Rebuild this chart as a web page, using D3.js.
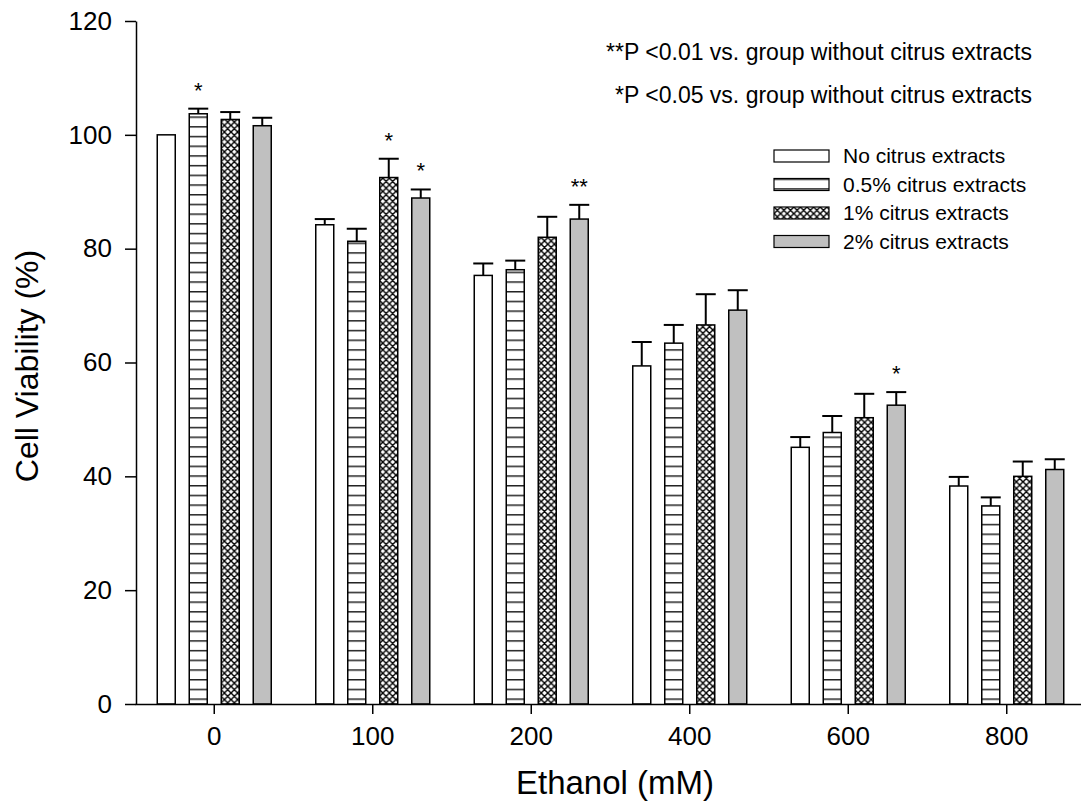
<!DOCTYPE html>
<html>
<head>
<meta charset="utf-8">
<script src="https://cdn.jsdelivr.net/npm/d3@7"></script>
<style>
  html, body { margin: 0; padding: 0; background: #fff; }
  svg { display: block; font-family: "Liberation Sans", Arial, sans-serif; }
</style>
</head>
<body>
<svg id="chart" width="1081" height="809"></svg>
<script>
// ---------- data ----------
const categories = ["0", "100", "200", "400", "600", "800"];
const seriesNames = ["No citrus extracts", "0.5% citrus extracts", "1% citrus extracts", "2% citrus extracts"];
const noExtract    = [100.0, 84.2, 75.3, 59.4, 45.1, 38.3];
const noExtractErr = [0.0, 1.0, 2.1, 4.2, 1.8, 1.6];
const half         = [103.7, 81.3, 76.3, 63.4, 47.7, 34.8];
const halfErr      = [0.9, 2.2, 1.6, 3.2, 2.9, 1.5];
const one          = [102.7, 92.5, 82.0, 66.6, 50.3, 40.0];
const oneErr       = [1.3, 3.3, 3.6, 5.4, 4.2, 2.6];
const two          = [101.6, 88.9, 85.2, 69.2, 52.5, 41.2];
const twoErr       = [1.4, 1.5, 2.5, 3.5, 2.3, 1.8];
const noExtractSig = ["", "", "", "", "", ""];
const halfSig      = ["*", "", "", "", "", ""];
const oneSig       = ["", "*", "", "", "", ""];
const twoSig       = ["", "*", "**", "", "*", ""];
const yTicks = [0, 20, 40, 60, 80, 100, 120];
const annotations = ["**P <0.01 vs. group without citrus extracts", "*P <0.05 vs. group without citrus extracts"];

const seriesValues = [noExtract, half, one, two];
const seriesErrors = [noExtractErr, halfErr, oneErr, twoErr];
const seriesSig = [noExtractSig, halfSig, oneSig, twoSig];

// ---------- setup ----------
const svg = d3.select("#chart");
const font = '"Liberation Sans", Arial, sans-serif';

const defs = svg.append("defs");
const stripe = defs.append("pattern").attr("id", "stripe")
  .attr("patternUnits", "userSpaceOnUse").attr("width", 10).attr("height", 9.7);
stripe.append("rect").attr("width", 10).attr("height", 9.7).attr("fill", "#fff");
stripe.append("line").attr("x1", 0).attr("x2", 10).attr("y1", 0.75).attr("y2", 0.75)
  .attr("stroke", "#222").attr("stroke-width", 1.5);

const cp = 6.6;
const cross = defs.append("pattern").attr("id", "cross")
  .attr("patternUnits", "userSpaceOnUse").attr("width", cp).attr("height", cp);
cross.append("rect").attr("width", cp).attr("height", cp).attr("fill", "#fff");
cross.append("path")
  .attr("d", `M0,0L${cp},${cp}M${cp},0L0,${cp}M-1,${cp-1}L1,${cp+1}M${cp-1},-1L${cp+1},1M-1,1L1,-1M${cp-1},${cp+1}L${cp+1},${cp-1}`)
  .attr("stroke", "#000").attr("stroke-width", 1.4).attr("fill", "none");

const fills = ["#ffffff", "url(#stripe)", "url(#cross)", "#c0c0c0"];

const x = d3.scaleBand().domain(categories).range([135, 1086]).padding(0);
const xs = d3.scaleBand().domain(d3.range(4)).range([-57, 57]).paddingInner(0.4375).paddingOuter(0);
const y = d3.scaleLinear().domain([0, 120]).range([704, 21]);

// ---------- bars ----------
const bars = [];
categories.forEach((c, gi) => {
  seriesValues.forEach((vals, si) => {
    bars.push({ c, si, v: vals[gi], e: seriesErrors[si][gi], sig: seriesSig[si][gi] });
  });
});

const g = svg.append("g");
const bx = d => x(d.c) + x.bandwidth() / 2 + xs(d.si);

// error bars (drawn behind bars)
const eb = bars.filter(d => d.e > 0);
g.selectAll("line.err").data(eb).join("line")
  .attr("x1", d => bx(d) + xs.bandwidth() / 2).attr("x2", d => bx(d) + xs.bandwidth() / 2)
  .attr("y1", d => y(d.v)).attr("y2", d => y(d.v + d.e))
  .attr("stroke", "#000").attr("stroke-width", 2);
g.selectAll("line.cap").data(eb).join("line")
  .attr("x1", d => bx(d) - 1).attr("x2", d => bx(d) + xs.bandwidth() + 1)
  .attr("y1", d => y(d.v + d.e)).attr("y2", d => y(d.v + d.e))
  .attr("stroke", "#000").attr("stroke-width", 2);

g.selectAll("rect.bar").data(bars).join("rect")
  .attr("x", d => bx(d)).attr("width", xs.bandwidth())
  .attr("y", d => y(d.v)).attr("height", d => y(0) - y(d.v))
  .attr("fill", d => fills[d.si]).attr("stroke", "#000").attr("stroke-width", 1.5);

// significance stars
g.selectAll("text.sig").data(bars.filter(d => d.sig)).join("text")
  .attr("x", d => bx(d) + xs.bandwidth() / 2)
  .attr("y", d => y(d.v + d.e) - 11)
  .attr("text-anchor", "middle").attr("font-size", 22).attr("font-family", font)
  .text(d => d.sig);

// ---------- axes ----------
const yAxis = d3.axisLeft(y).tickValues(yTicks).tickSize(11).tickSizeOuter(0).tickPadding(13)
  .tickFormat(d3.format("d"));
const ya = svg.append("g").attr("transform", "translate(136,0)").call(yAxis);
ya.select(".domain").attr("stroke-width", 1.5);
ya.selectAll(".tick line").attr("stroke-width", 1.5);
ya.selectAll("text").attr("font-size", 26).attr("font-family", font).attr("fill", "#000");

const xAxis = d3.axisBottom(x).tickSize(10).tickSizeOuter(0).tickPadding(13);
const xa = svg.append("g").attr("transform", "translate(0,704)").call(xAxis);
xa.select(".domain").attr("stroke-width", 1.5);
xa.selectAll(".tick line").attr("stroke-width", 1.5);
xa.selectAll("text").attr("font-size", 26).attr("font-family", font).attr("fill", "#000");

// axis titles
svg.append("text").attr("transform", "translate(38,366) rotate(-90)")
  .attr("text-anchor", "middle").attr("font-size", 32).attr("font-family", font)
  .text("Cell Viability (%)");
svg.append("text").attr("x", 615).attr("y", 794)
  .attr("text-anchor", "middle").attr("font-size", 33).attr("font-family", font)
  .text("Ethanol (mM)");

// annotations
svg.selectAll("text.ann").data(annotations).join("text")
  .attr("x", 1032).attr("y", (d, i) => 60 + i * 43)
  .attr("text-anchor", "end").attr("font-size", 23).attr("font-family", font)
  .text(d => d);

// ---------- legend ----------
const leg = svg.append("g").attr("transform", "translate(774,150)");
const li = leg.selectAll("g").data(seriesNames).join("g")
  .attr("transform", (d, i) => `translate(0,${i * 28.5})`);
li.append("rect").attr("width", 55).attr("height", 12)
  .attr("fill", (d, i) => fills[i]).attr("stroke", "#000").attr("stroke-width", 1.2);
li.append("text").attr("x", 69).attr("y", 13).attr("font-size", 21).attr("font-family", font)
  .text(d => d);
</script>
</body>
</html>
